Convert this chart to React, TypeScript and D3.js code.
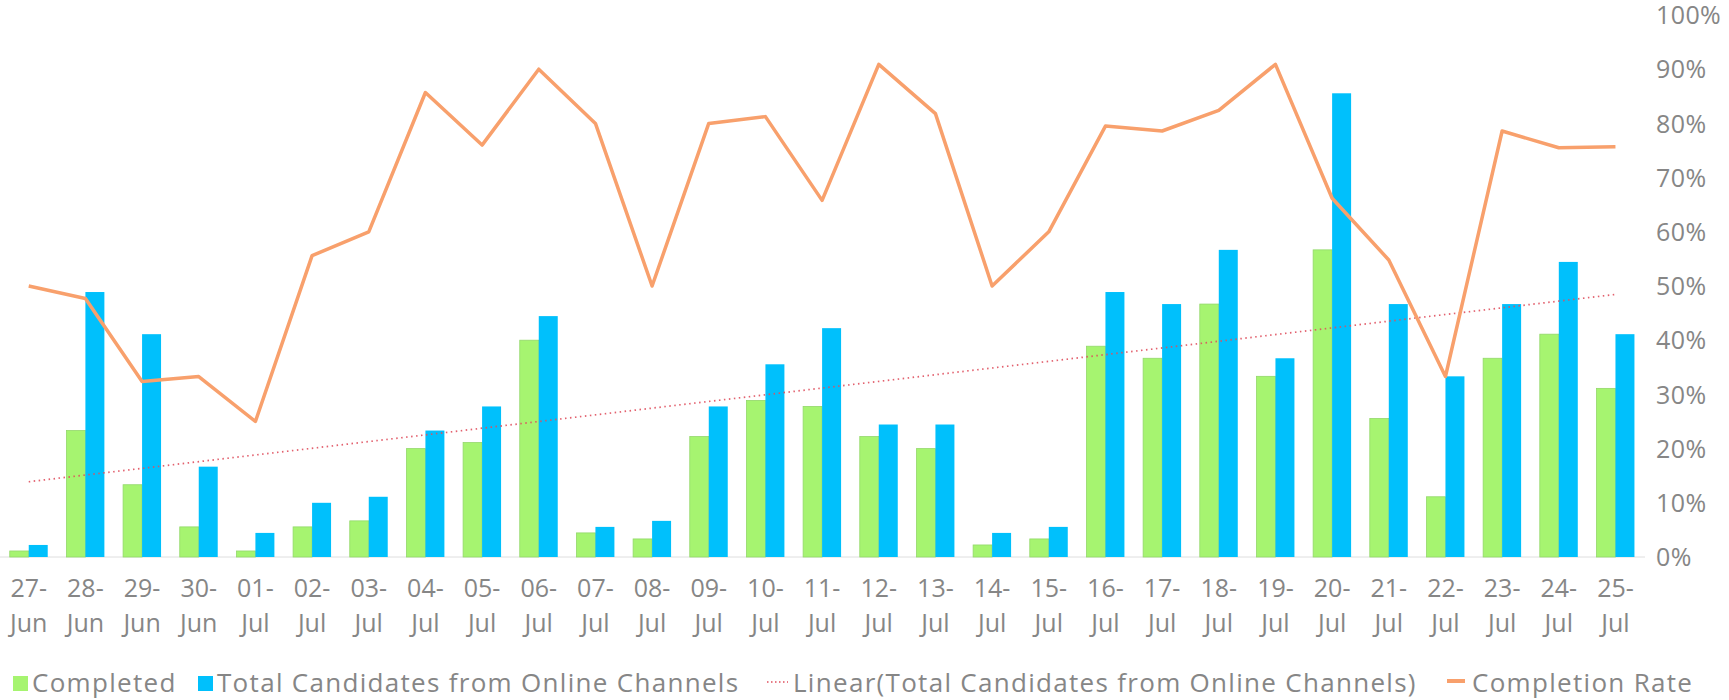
import React, { useEffect, useRef } from 'react';
import * as d3 from 'd3';

// dates on the x axis
const dates = [
  '27-Jun', '28-Jun', '29-Jun', '30-Jun', '01-Jul', '02-Jul', '03-Jul', '04-Jul', '05-Jul', '06-Jul',
  '07-Jul', '08-Jul', '09-Jul', '10-Jul', '11-Jul', '12-Jul', '13-Jul', '14-Jul', '15-Jul', '16-Jul',
  '17-Jul', '18-Jul', '19-Jul', '20-Jul', '21-Jul', '22-Jul', '23-Jul', '24-Jul', '25-Jul',
];

const completed = [1, 21, 12, 5, 1, 5, 6, 18, 19, 36, 4, 3, 20, 26, 25, 20, 18, 2, 3, 35, 33, 42, 30, 51, 23, 10, 33, 37, 28];
const totalOnline = [2, 44, 37, 15, 4, 9, 10, 21, 25, 40, 5, 6, 25, 32, 38, 22, 22, 4, 5, 44, 42, 51, 33, 77, 42, 30, 42, 49, 37];
const completionRate = [
  0.5, 0.477, 0.324, 0.333, 0.25, 0.556, 0.6, 0.857, 0.76, 0.9,
  0.8, 0.5, 0.8, 0.8125, 0.658, 0.909, 0.818, 0.5, 0.6, 0.795,
  0.786, 0.824, 0.909, 0.662, 0.548, 0.333, 0.786, 0.755, 0.757,
];
// linear trendline of total candidates, value at first and last date
const trendEnds = [12.5, 43.6];

const rateTicks = [0, 0.1, 0.2, 0.3, 0.4, 0.5, 0.6, 0.7, 0.8, 0.9, 1];

const legendItems = [
  { label: 'Completed', kind: 'green' },
  { label: 'Total Candidates from Online Channels', kind: 'blue' },
  { label: 'Linear(Total Candidates from Online Channels)', kind: 'trend' },
  { label: 'Completion Rate', kind: 'rate' },
];

const GREEN = '#a6f470';
const BLUE = '#00c0fc';
const ORANGE = '#f8a06c';
const TREND = '#e0505f';
const TEXT = '#868686';
const FONT = '"Open Sans", sans-serif';

export default function App() {
  const ref = useRef<SVGSVGElement>(null);

  useEffect(() => {
    const svg = d3.select(ref.current);
    svg.selectAll('*').remove();

    const baseY = 557;
    const topY = 15;

    const x0 = d3.scaleBand<string>()
      .domain(dates)
      .range([0.4, 1643.8])
      .paddingInner(0.33)
      .paddingOuter(0.165);

    const x1 = d3.scaleBand<string>()
      .domain(['completed', 'total'])
      .range([0, x0.bandwidth()])
      .padding(0);

    const yCount = d3.scaleLinear().domain([0, 90]).range([baseY, topY]);
    const yRate = d3.scaleLinear().domain([0, 1]).range([baseY, topY]);

    const center = (d: string) => (x0(d) as number) + x0.bandwidth() / 2;

    // baseline
    svg.append('line')
      .attr('x1', 0).attr('x2', 1645)
      .attr('y1', baseY).attr('y2', baseY)
      .attr('stroke', '#dedede').attr('stroke-width', 1);

    // bars
    const groups = svg.append('g').selectAll('g')
      .data(dates)
      .enter()
      .append('g')
      .attr('transform', d => `translate(${x0(d)},0)`);

    groups.append('rect')
      .attr('x', x1('completed') as number)
      .attr('width', x1.bandwidth())
      .attr('y', (d, i) => yCount(completed[i]))
      .attr('height', (d, i) => baseY - yCount(completed[i]))
      .attr('fill', GREEN)
      .attr('stroke', '#93d86a')
      .attr('stroke-width', 0.8);

    groups.append('rect')
      .attr('x', x1('total') as number)
      .attr('width', x1.bandwidth())
      .attr('y', (d, i) => yCount(totalOnline[i]))
      .attr('height', (d, i) => baseY - yCount(totalOnline[i]))
      .attr('fill', BLUE);

    // trendline
    svg.append('line')
      .attr('x1', center(dates[0]))
      .attr('x2', center(dates[dates.length - 1]))
      .attr('y1', yCount(trendEnds[0]))
      .attr('y2', yCount(trendEnds[1]))
      .attr('stroke', TREND)
      .attr('stroke-width', 1.7)
      .attr('stroke-dasharray', '1.5,3.5')
      .attr('opacity', 0.9);

    // completion rate line
    const line = d3.line<number>()
      .x((d, i) => center(dates[i]))
      .y(d => yRate(d));

    svg.append('path')
      .datum(completionRate)
      .attr('d', line)
      .attr('fill', 'none')
      .attr('stroke', ORANGE)
      .attr('stroke-width', 3.5)
      .attr('stroke-linejoin', 'round');

    // right axis
    const yAxis = d3.axisRight(yRate)
      .tickValues(rateTicks)
      .tickSize(0)
      .tickPadding(0)
      .tickFormat(d => `${Math.round((d as number) * 100)}%`);

    const gy = svg.append('g')
      .attr('transform', 'translate(1656,0)')
      .call(yAxis);
    gy.select('.domain').remove();
    gy.selectAll('text')
      .attr('fill', TEXT)
      .attr('font-family', FONT)
      .attr('font-size', 25)
      .attr('letter-spacing', 0.4)
      .attr('dy', '0.35em');

    // x labels, two lines
    const xl = svg.append('g').selectAll('text')
      .data(dates)
      .enter()
      .append('text')
      .attr('x', d => center(d))
      .attr('text-anchor', 'middle')
      .attr('fill', TEXT)
      .attr('font-family', FONT)
      .attr('font-size', 25);
    xl.append('tspan')
      .attr('x', d => center(d))
      .attr('y', 597)
      .text(d => d.split('-')[0] + '-');
    xl.append('tspan')
      .attr('x', d => center(d))
      .attr('y', 632)
      .text(d => d.split('-')[1]);

    // legend
    const legendX = [13, 198, 767, 1447];
    const legend = svg.append('g').selectAll('g')
      .data(legendItems)
      .enter()
      .append('g')
      .attr('transform', (d, i) => `translate(${legendX[i]},683)`);

    legend.each(function (d) {
      const g = d3.select(this);
      if (d.kind === 'green' || d.kind === 'blue') {
        g.append('rect')
          .attr('x', 0).attr('y', -7)
          .attr('width', 15).attr('height', 15)
          .attr('fill', d.kind === 'green' ? GREEN : BLUE);
      } else if (d.kind === 'trend') {
        g.append('line')
          .attr('x1', 0).attr('x2', 21)
          .attr('y1', -1).attr('y2', -1)
          .attr('stroke', TREND)
          .attr('stroke-width', 1.5)
          .attr('stroke-dasharray', '1.5,2.5');
      } else {
        g.append('line')
          .attr('x1', 0).attr('x2', 18)
          .attr('y1', -2).attr('y2', -2)
          .attr('stroke', ORANGE)
          .attr('stroke-width', 4);
      }
      g.append('text')
        .attr('x', d.kind === 'trend' ? 26 : d.kind === 'rate' ? 25 : 19)
        .attr('y', 9)
        .attr('fill', TEXT)
        .attr('font-family', FONT)
        .attr('font-size', 26)
        .attr('letter-spacing', 1.3)
        .text(d.label);
    });
  }, []);

  return (
    <svg
      ref={ref}
      width={1729}
      height={700}
      style={{ position: 'absolute', left: 0, top: 0, background: '#fff' }}
    />
  );
}
